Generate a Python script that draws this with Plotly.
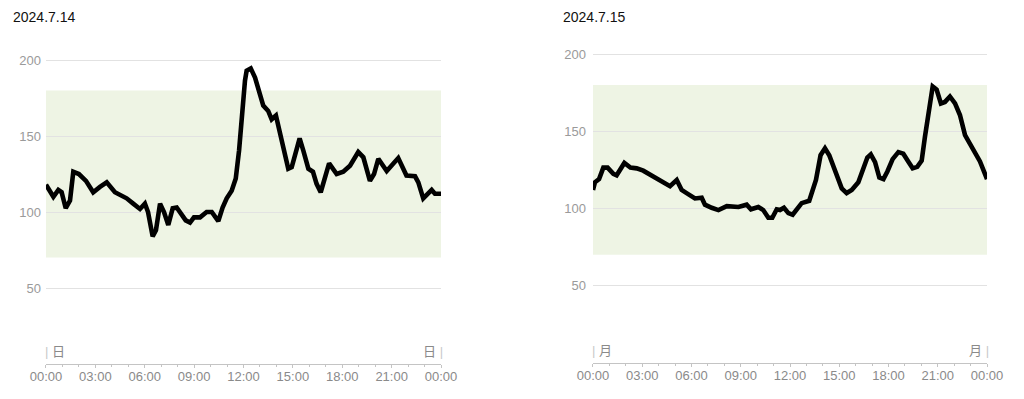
import plotly.graph_objects as go

# ---- data (hours since midnight, glucose mg/dL) ----
title_left = "2024.7.14"
title_right = "2024.7.15"
day_left = "日"
day_right = "月"

hours_0714 = [0.0, 0.45, 0.75, 0.95, 1.2, 1.46, 1.66, 2.0, 2.43, 2.87, 3.28, 3.69, 4.19, 4.9, 5.3,
              5.71, 6.01, 6.2, 6.48, 6.68, 6.93, 7.17, 7.43, 7.7, 7.94, 8.24, 8.49, 8.75, 8.99,
              9.36, 9.76, 10.07, 10.47, 10.73, 10.98, 11.28, 11.53, 11.73, 11.9, 12.09, 12.19,
              12.44, 12.7, 12.96, 13.2, 13.5, 13.71, 13.97, 14.2, 14.5, 14.72, 14.93, 15.19,
              15.41, 15.63, 15.94, 16.22, 16.44, 16.69, 16.95, 17.2, 17.66, 18.06, 18.47,
              18.97, 19.28, 19.68, 19.93, 20.19, 20.7, 21.1, 21.4, 21.9, 22.42, 22.62, 22.92,
              23.43, 23.63, 24.0]
glucose_0714 = [118, 110, 114.5, 113, 102.5, 107.5, 126.5, 125, 120.5, 113, 116.5, 119.5, 113, 109,
                105.5, 102, 105.5, 100, 84, 88, 105.5, 100, 91.5, 102.5, 103, 98.5, 94.5, 93,
                96.5, 96.5, 100, 100, 94, 103, 109, 114, 122, 140.5, 165, 186.5, 193, 194.5,
                188.5, 180, 170, 166.5, 161, 163.5, 153.5, 139.5, 128.5, 129.5, 139.5, 148.5,
                140.5, 128.5, 126.5, 118.5, 113, 124, 132, 125, 126.5, 130.5, 139.5, 136,
                120.5, 125, 135, 127, 131.5, 135.5, 124, 123.5, 119.5, 109, 114.5, 112, 112]

hours_0715 = [0.0, 0.12, 0.37, 0.63, 0.89, 1.24, 1.44, 1.91, 2.28, 2.66, 3.06, 3.47, 4.08, 4.69,
              5.1, 5.4, 5.7, 6.21, 6.62, 6.82, 7.23, 7.64, 8.15, 8.86, 9.36, 9.62, 10.07, 10.37,
              10.68, 10.92, 11.19, 11.39, 11.63, 11.9, 12.16, 12.4, 12.71, 13.17, 13.58, 13.86,
              14.13, 14.39, 14.74, 15.15, 15.45, 15.76, 16.16, 16.47, 16.71, 16.92, 17.18,
              17.44, 17.69, 17.93, 18.25, 18.6, 18.9, 19.2, 19.47, 19.75, 20.02, 20.22, 20.42,
              20.69, 20.93, 21.19, 21.44, 21.74, 22.05, 22.35, 22.66, 22.92, 23.27, 23.57, 24.0]
glucose_0715 = [112, 117, 119, 126.5, 126.5, 122.5, 121.5, 129.5, 126.5, 126, 124.5, 122, 119,
                114.5, 118.5, 112, 110, 106.5, 107, 102.5, 100.5, 99, 101.5, 101, 102.5, 99.5,
                101, 99, 94, 94, 99.5, 99, 100.5, 97, 96, 99.5, 103.5, 105, 118.5, 134.5, 139,
                134.5, 124, 113, 110, 112, 117, 125, 133, 135, 130, 120, 119, 124, 132, 136.5,
                135.5, 130.5, 126, 127, 131, 146.5, 162.5, 179, 177, 168, 169, 172.5, 168,
                160.5, 147.5, 143, 137, 130.5, 119]

target_low = 70
target_high = 180

x_tickvals = [0, 3, 6, 9, 12, 15, 18, 21, 24]
x_ticktext = ["00:00", "03:00", "06:00", "09:00", "12:00", "15:00", "18:00", "21:00", "00:00"]
y_tickvals = [50, 100, 150, 200]
y_ticktext = ["50", "100", "150", "200"]

FONT = "Liberation Sans, Arial, Noto Sans CJK JP, sans-serif"
TICKC = "#c4c4c4"

fig = go.Figure()
fig.add_trace(go.Scatter(x=hours_0714, y=glucose_0714, mode="lines",
                         line=dict(color="#000000", width=4.6), xaxis="x", yaxis="y",
                         showlegend=False, hoverinfo="skip"))
fig.add_trace(go.Scatter(x=hours_0715, y=glucose_0715, mode="lines",
                         line=dict(color="#000000", width=4.6), xaxis="x2", yaxis="y2",
                         showlegend=False, hoverinfo="skip"))


def xaxis_cfg(domain, anchor):
    return dict(domain=domain, anchor=anchor, range=[0, 24], showgrid=False, zeroline=False,
                showline=True, linecolor=TICKC, linewidth=1, automargin=False,
                tickmode="array", tickvals=x_tickvals, ticktext=x_ticktext,
                ticks="outside", ticklen=3, tickcolor=TICKC, tickwidth=1,
                ticklabelstandoff=-3,
                minor=dict(tickmode="linear", tick0=0, dtick=1, ticks="outside", ticklen=2,
                           tickcolor=TICKC, showgrid=False),
                tickfont=dict(family=FONT, size=13, color="#8a8a8a"), fixedrange=True)


def xaxis_inner_cfg(overlay, anchor):
    # upper half of the tick marks (ticks cross the axis line)
    return dict(overlaying=overlay, anchor=anchor, range=[0, 24], showgrid=False,
                zeroline=False, showline=False, automargin=False, showticklabels=False,
                tickmode="array", tickvals=x_tickvals,
                ticks="inside", ticklen=2, tickcolor=TICKC, tickwidth=1,
                minor=dict(tickmode="linear", tick0=0, dtick=1, ticks="inside", ticklen=1,
                           tickcolor=TICKC, showgrid=False),
                fixedrange=True)


def yaxis_cfg(domain, anchor, standoff):
    return dict(domain=domain, anchor=anchor, range=[0, 210], showgrid=True,
                gridcolor="#e2e2e2", gridwidth=1, zeroline=False, showline=False,
                automargin=False,
                tickmode="array", tickvals=y_tickvals, ticktext=y_ticktext, ticks="",
                ticklabelstandoff=standoff,
                tickfont=dict(family=FONT, size=13, color="#9a9a9a"), fixedrange=True)


def day_label(text, xref, yref, at_start):
    bar = "<span style='color:#c8c8c8'>|</span>"
    return dict(text=(bar + " " + text) if at_start else (text + " " + bar),
                xref=xref, yref=yref, x=0 if at_start else 24, y=0,
                xanchor="left" if at_start else "right", yanchor="middle",
                xshift=-2 if at_start else 3, yshift=13, showarrow=False, borderpad=0,
                font=dict(family=FONT, size=13, color="#8a8a8a"))


fig.update_layout(
    width=1024, height=399,
    margin=dict(l=0, r=0, t=0, b=0, pad=0),
    paper_bgcolor="white", plot_bgcolor="white",
    xaxis=xaxis_cfg([0.0449, 0.4307], "y"),
    yaxis=yaxis_cfg([0.0877, 0.8877], "x", 4),
    xaxis2=xaxis_cfg([0.5791, 0.9639], "y2"),
    yaxis2=yaxis_cfg([0.0902, 0.9033], "x2", 6),
    xaxis3=xaxis_inner_cfg("x", "y"),
    xaxis4=xaxis_inner_cfg("x2", "y2"),
    shapes=[
        dict(type="rect", xref="x", yref="y", x0=0, x1=24, y0=target_low, y1=target_high,
             fillcolor="#eef4e4", line=dict(width=0), layer="below"),
        dict(type="rect", xref="x2", yref="y2", x0=0, x1=24, y0=target_low, y1=target_high,
             fillcolor="#eef4e4", line=dict(width=0), layer="below"),
    ],
    annotations=[
        dict(text=title_left, xref="paper", yref="paper", x=11 / 1024, y=1 - 17 / 399,
             xanchor="left", yanchor="middle", showarrow=False,
             font=dict(family=FONT, size=14, color="#111111")),
        dict(text=title_right, xref="paper", yref="paper", x=561 / 1024, y=1 - 17 / 399,
             xanchor="left", yanchor="middle", showarrow=False,
             font=dict(family=FONT, size=14, color="#111111")),
        day_label(day_left, "x", "y", True),
        day_label(day_left, "x", "y", False),
        day_label(day_right, "x2", "y2", True),
        day_label(day_right, "x2", "y2", False),
    ],
)

fig.write_html("out.html", config={"displayModeBar": False},
               post_script="document.body.style.margin='0px';")
